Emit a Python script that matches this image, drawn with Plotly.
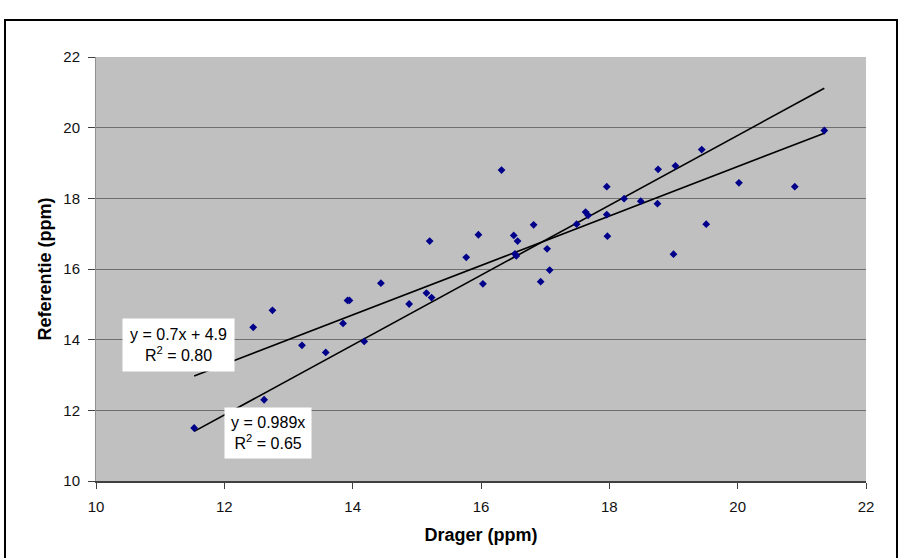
import plotly.graph_objects as go

drager = [11.53, 12.45, 12.75, 12.62, 13.21, 13.58, 13.85, 13.92, 13.95, 14.18,
          14.44, 14.88, 15.15, 15.20, 15.23, 15.77, 15.96, 16.03, 16.32, 16.51,
          16.57, 16.53, 16.55, 16.82, 16.93, 17.03, 17.07, 17.49, 17.63, 17.67,
          17.96, 17.96, 17.97, 18.23, 18.49, 18.75, 18.76, 19.03, 19.44, 19.51,
          19.00, 20.02, 20.89, 21.35]
referentie = [11.50, 14.35, 14.83, 12.30, 13.84, 13.64, 14.46, 15.11, 15.11, 13.95,
              15.60, 15.01, 15.32, 16.79, 15.19, 16.33, 16.97, 15.58, 18.80, 16.95,
              16.79, 16.43, 16.37, 17.25, 15.64, 16.57, 15.97, 17.27, 17.61, 17.52,
              18.33, 17.54, 16.93, 17.99, 17.92, 17.85, 18.82, 18.92, 19.38, 17.27,
              16.42, 18.44, 18.33, 19.92]

fit1_slope, fit1_icpt = 0.7, 4.9      # y = 0.7x + 4.9
fit2_slope = 0.989                    # y = 0.989x
xmin, xmax = min(drager), max(drager)
line_x = [xmin, xmax]

fig = go.Figure()
fig.add_trace(go.Scatter(x=line_x, y=[fit1_slope * v + fit1_icpt for v in line_x],
                         mode="lines", line=dict(color="black", width=1.6),
                         showlegend=False, hoverinfo="skip"))
fig.add_trace(go.Scatter(x=line_x, y=[fit2_slope * v for v in line_x],
                         mode="lines", line=dict(color="black", width=1.6),
                         showlegend=False, hoverinfo="skip"))
fig.add_trace(go.Scatter(x=drager, y=referentie, mode="markers",
                         marker=dict(symbol="diamond", size=6, color="#00008B"),
                         showlegend=False))

W0, W1, H0, H1 = 96, 866, 57, 481
pw, ph = W1 - W0, H1 - H0

fig.add_shape(type="rect", xref="paper", yref="paper",
              x0=(5 - W0) / pw, x1=(897 - W0) / pw,
              y0=(H1 - 570) / ph, y1=(H1 - 20) / ph,
              line=dict(color="black", width=2), fillcolor="rgba(0,0,0,0)", layer="below")

fig.add_annotation(x=11.28, y=13.85, xref="x", yref="y",
                   text="y = 0.7x + 4.9<br>R<sup>2</sup> = 0.80", showarrow=False,
                   bgcolor="white", borderpad=7, align="center",
                   font=dict(family="Arial", size=16, color="black"))
fig.add_annotation(x=12.68, y=11.36, xref="x", yref="y",
                   text="y = 0.989x<br>R<sup>2</sup> = 0.65", showarrow=False,
                   bgcolor="white", borderpad=6, align="center",
                   font=dict(family="Arial", size=16, color="black"))

fig.update_layout(
    width=902, height=558,
    margin=dict(l=W0, r=902 - W1, t=H0, b=558 - H1),
    paper_bgcolor="white", plot_bgcolor="#C0C0C0",
    font=dict(family="Arial", size=14, color="black"),
)
fig.update_xaxes(range=[10, 22], dtick=2, tick0=10, showgrid=False,
                 ticks="outside", ticklen=6, tickcolor="#404040",
                 ticklabelstandoff=5, tickfont=dict(size=15, color="#111111"),
                 showline=True, linecolor="#404040", linewidth=1.5,
                 zeroline=False,
                 title=dict(text="<b>Drager (ppm)</b>", font=dict(size=18), standoff=15))
fig.update_yaxes(range=[10, 22], dtick=2, tick0=10, showgrid=True,
                 gridcolor="#6E6E6E", gridwidth=1.3,
                 ticks="outside", ticklen=7, tickcolor="#404040",
                 ticklabelstandoff=5, tickfont=dict(size=15, color="#111111"),
                 showline=True, linecolor="#909090", linewidth=1,
                 zeroline=False,
                 title=dict(text="<b>Referentie (ppm)</b>", font=dict(size=18), standoff=7))

fig.write_html("out.html", config={"displayModeBar": False},
               post_script="document.body.style.margin='0';document.body.style.overflow='hidden';")
